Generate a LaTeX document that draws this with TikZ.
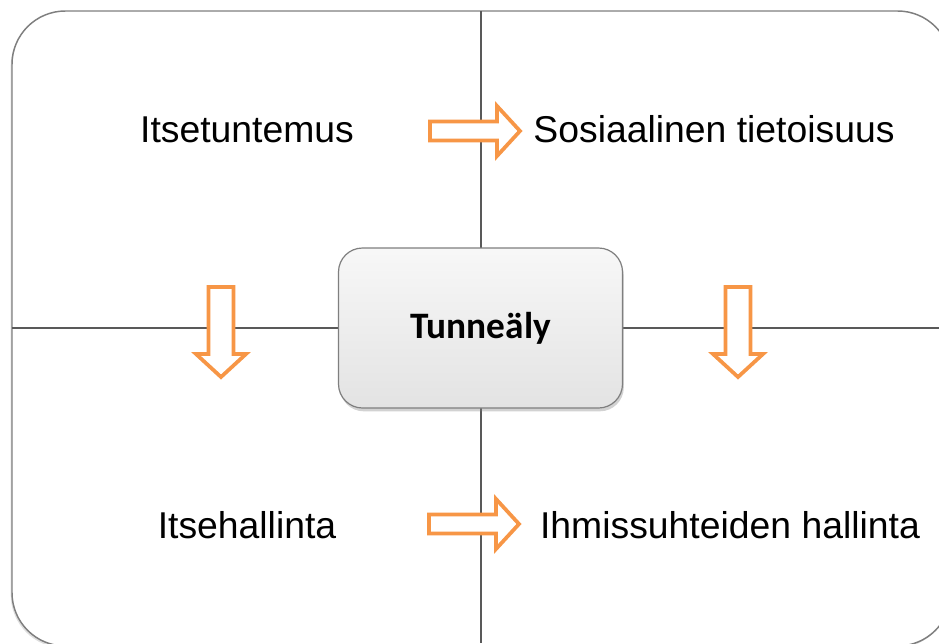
\documentclass[tikz,border=0pt]{standalone}
\usepackage{fontspec}
\setmainfont{Liberation Sans}
\newfontfamily\boxfont{Carlito}
\usetikzlibrary{shadows}
\definecolor{arrowOrange}{HTML}{F79646}
\definecolor{frameGray}{HTML}{7F7F7F}
\definecolor{lineGray}{HTML}{595959}

\begin{document}
\begin{tikzpicture}
[x=0.75pt,y=-0.75pt,%
  frameDecorate/.style={draw=frameGray,line width=1.1pt,rounded corners=40pt,fill=white,
    drop shadow={shadow xshift=-1pt,shadow yshift=-1.5pt,opacity=0.25}},%
  lineDecorate/.style={draw=lineGray,line width=1.3pt},%
  arrowDecorate/.style={draw=arrowOrange,line width=2.8pt,fill=white,line join=miter},%
  labelDecorate/.style={anchor=base,font=\fontsize{28}{33}\selectfont},%
  centerDecorate/.style={draw=frameGray,line width=0.9pt,rounded corners=18pt,
    top color=gray!6,bottom color=gray!22,minimum width=213pt,minimum height=120pt,
    font=\boxfont\bfseries\fontsize{28}{33}\selectfont,
    drop shadow={shadow xshift=1pt,shadow yshift=-2.5pt,opacity=0.35}}]
\useasboundingbox (0,0) rectangle (939,643);
\clip (0,0) rectangle (939,643);
%% frame
\path[frameDecorate] (12,11) rectangle (951,646);
%% dividing lines
\coordinate (top) at (481,11);
\coordinate (bottom) at (481,643);
\coordinate (left) at (12,328);
\coordinate (right) at (939,328);
\draw[lineDecorate] (top) -- (bottom);
\draw[lineDecorate] (left) -- (right);
%% labels
\foreach \nodename/\x/\y/\txt in {self/247/142/Itsetuntemus, social/714/142/Sosiaalinen tietoisuus,
  manage/247/538/Itsehallinta, relations/730/538/Ihmissuhteiden hallinta}
{
  \node (\nodename) at (\x,\y) [labelDecorate] {\txt};
}
%% arrows
\foreach \x/\y/\ang/\w in {430/131/0/9.5, 429/524/0/9.5, 221/287/-90/12.5, 738/287/-90/12.5}
{
  \draw[arrowDecorate,shift={(\x,\y)},rotate=\ang]
    (0,-\w) -- (67,-\w) -- (67,-25) -- (90,0) -- (67,25) -- (67,\w) -- (0,\w) -- cycle;
}
%% centre box
\node (centre) at (480.5,328) [centerDecorate] {Tunneäly};
\end{tikzpicture}
\end{document}
